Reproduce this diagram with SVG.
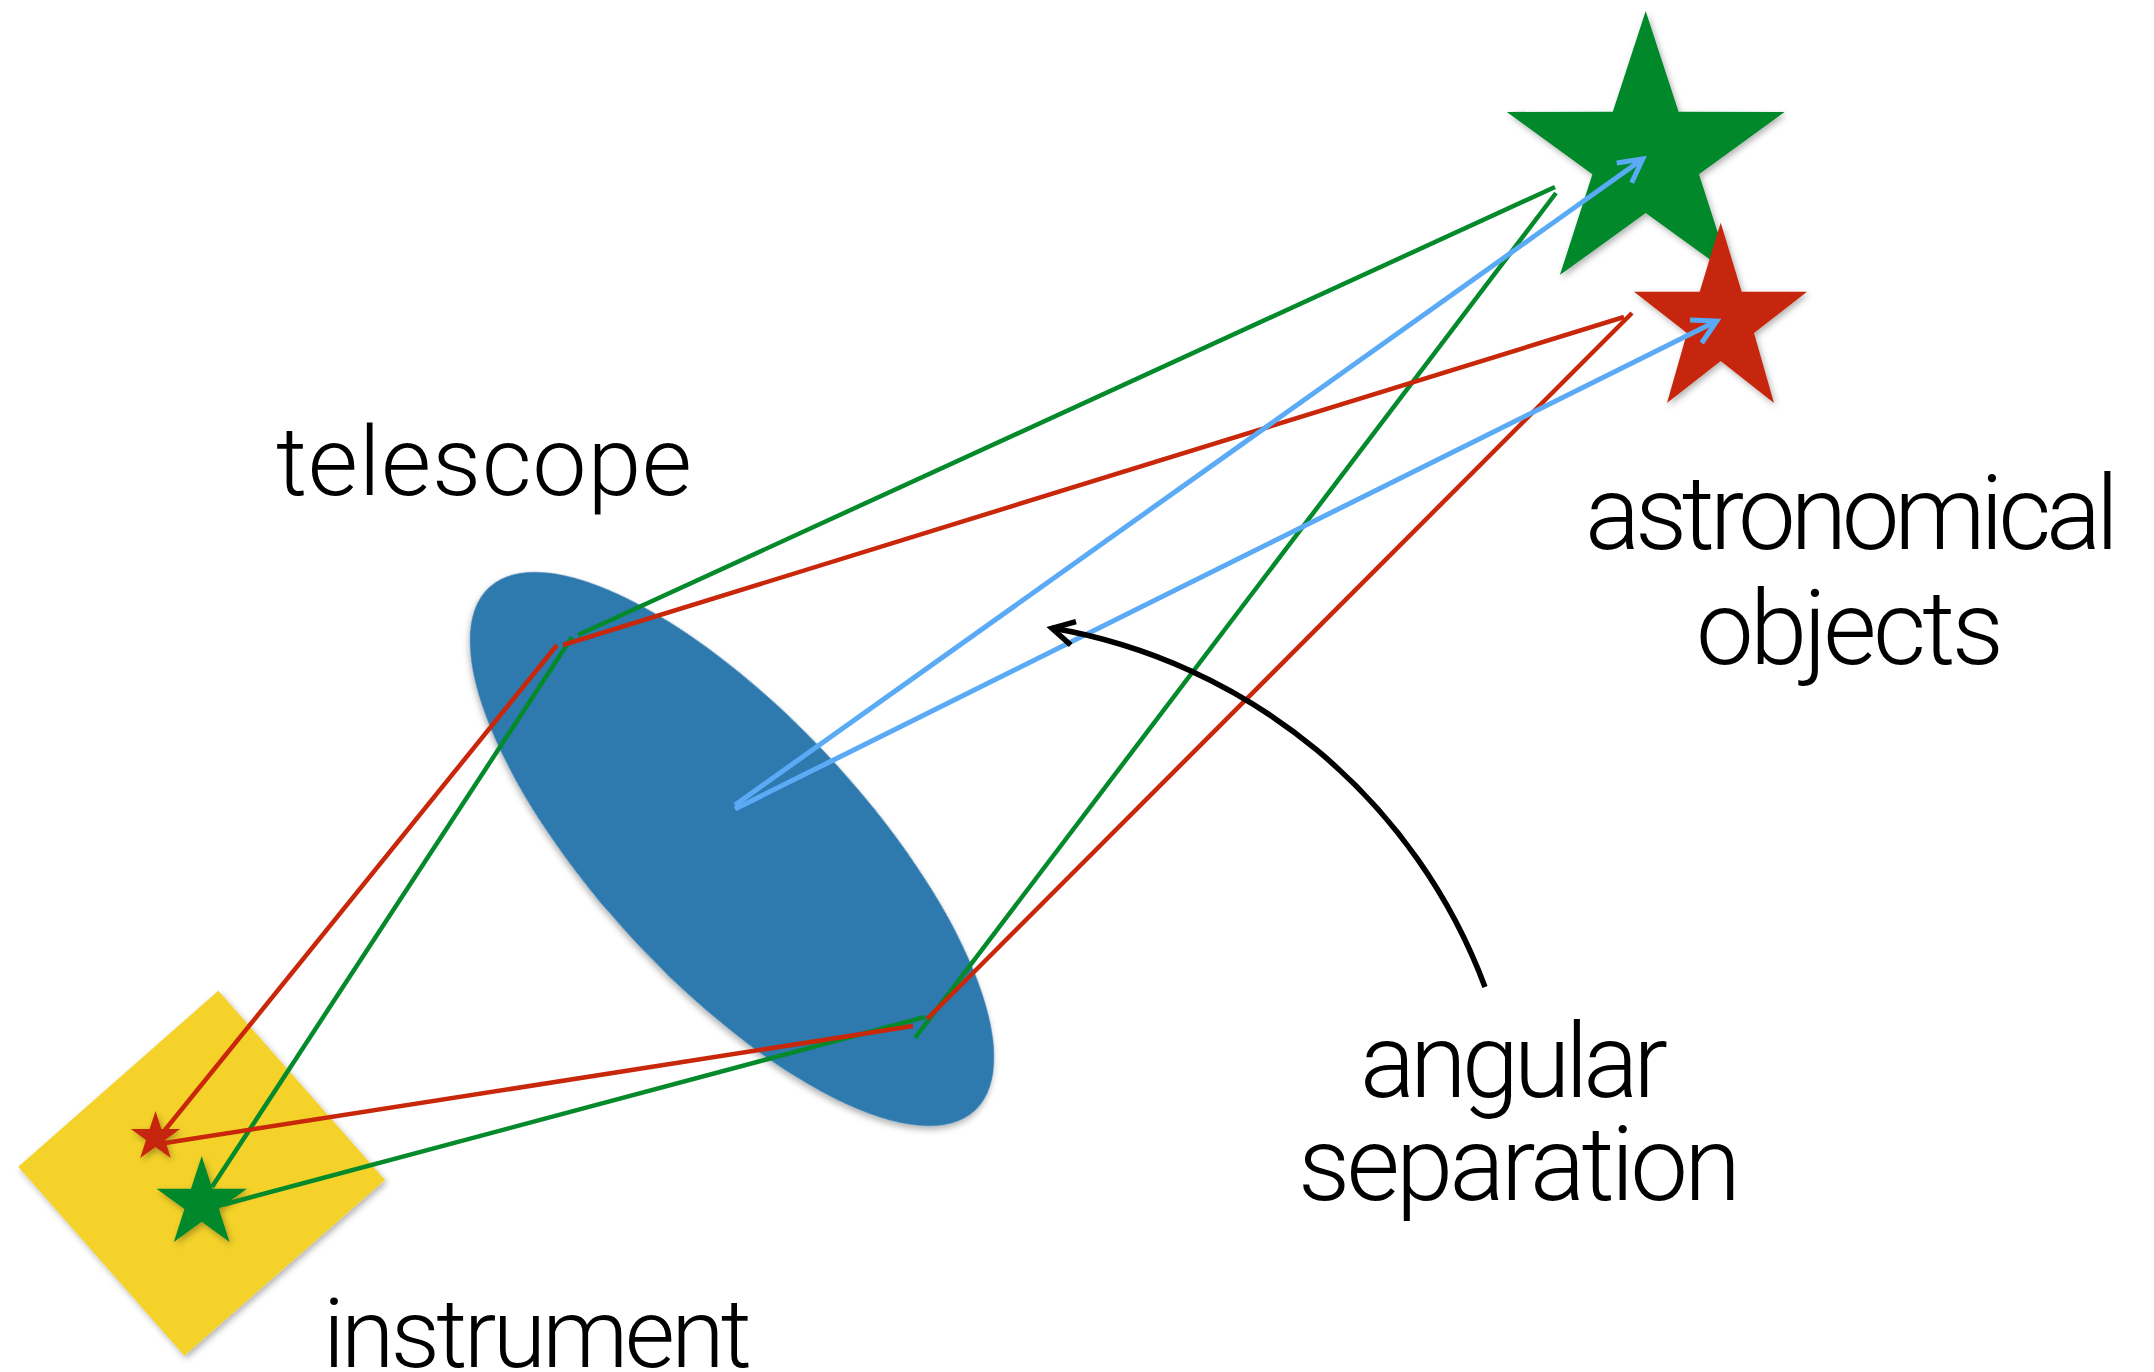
<svg xmlns="http://www.w3.org/2000/svg" width="2154" height="1372" viewBox="0 0 2154 1372">
  <defs>
    <filter id="shadow" x="-10%" y="-10%" width="130%" height="130%">
      <feDropShadow dx="2" dy="3" stdDeviation="3" flood-color="#000" flood-opacity="0.3"/>
    </filter>
  </defs>
  <style>
    .lbl { font-family: Roboto, "Liberation Sans", sans-serif; font-weight: 300; font-size: 97px; fill: #000; }
    .big { font-size: 103px; }
    .g { stroke: #058A2B; stroke-width: 4.5; fill: none; }
    .r { stroke: #C8270A; stroke-width: 4.5; fill: none; }
    .b { stroke: #5AAAF6; stroke-width: 5; fill: none; stroke-linecap: butt; }
    .k { stroke: #000; stroke-width: 5.5; fill: none; }
  </style>
  <rect width="2154" height="1372" fill="#fff"/>

  <g id="telescope">
    <ellipse cx="732" cy="849" rx="357" ry="134" transform="rotate(47.1 732 849)" fill="#2E79AE" filter="url(#shadow)"/>
  </g>

  <g id="instrument">
    <polygon points="218.3,990.7 385,1180 184.3,1355.7 18.3,1166.7" fill="#F4D22B" filter="url(#shadow)"/>
  </g>

  <g id="image-red">
    <polygon points="155.5,1111 161.4,1128.9 180.2,1129 165,1140.1 170.8,1158 155.5,1147 140.2,1158 146,1140.1 130.8,1129 149.6,1128.9" fill="#C62708" filter="url(#shadow)"/>
  </g>
  <g id="image-green">
    <polygon points="201.7,1156 212.4,1188.8 246.9,1188.8 219,1209.1 229.6,1241.9 201.7,1221.7 173.8,1241.9 184.4,1209.1 156.5,1188.8 191,1188.8" fill="#04882C" filter="url(#shadow)"/>
  </g>

  <g id="star-green">
    <polygon points="1645.7,11 1678.6,111.7 1784.6,111.9 1699,174.3 1731.5,275.1 1645.7,213 1559.9,275.1 1592.4,174.3 1506.8,111.9 1612.8,111.7" fill="#04882C" filter="url(#shadow)"/>
  </g>
  <g id="star-red">
    <polygon points="1720.7,222.7 1741.7,291.7 1807,291.7 1754,333 1774,403 1720.7,361 1667,403 1687,333 1634,291.7 1699.7,291.7" fill="#C62708" filter="url(#shadow)"/>
  </g>

  <g id="connectors">
    <line class="g" x1="1555" y1="187" x2="578" y2="635"/>
    <line class="g" x1="1556" y1="193" x2="915" y2="1038"/>
    <line class="g" x1="572" y1="637" x2="212" y2="1187"/>
    <line class="g" x1="925" y1="1017" x2="222" y2="1205"/>
    <line class="r" x1="1624" y1="317" x2="563" y2="645"/>
    <line class="r" x1="1632" y1="313" x2="927" y2="1019"/>
    <line class="r" x1="557" y1="645" x2="165" y2="1130"/>
    <line class="r" x1="913" y1="1026" x2="165" y2="1143"/>

    <line class="b" x1="735" y1="805" x2="1642.7" y2="159"/>
    <polyline class="b" points="1616.7,163 1642.7,159 1631.7,182.7"/>
    <line class="b" x1="735" y1="809" x2="1716.7" y2="321"/>
    <polyline class="b" points="1690,320 1716.7,321 1701.7,343"/>

    <path class="k" d="M1485,987 A564.4,564.4 0 0 0 1052,628"/>
    <polyline class="k" points="1076,621.7 1052,628.3 1070.7,645"/>
  </g>

  <g id="labels">
    <text class="lbl" x="276" y="495" textLength="416" lengthAdjust="spacing">telescope</text>
    <text class="lbl big" x="1585" y="549" textLength="534" lengthAdjust="spacing">astronomical</text>
    <text class="lbl big" x="1696" y="664" textLength="308" lengthAdjust="spacing">objects</text>
    <text class="lbl big" x="1360" y="1097" textLength="308" lengthAdjust="spacing">angular</text>
    <text class="lbl big" x="1298" y="1200" textLength="443" lengthAdjust="spacing">separation</text>
    <text class="lbl" x="323" y="1367" textLength="429" lengthAdjust="spacing">instrument</text>
  </g>
</svg>
